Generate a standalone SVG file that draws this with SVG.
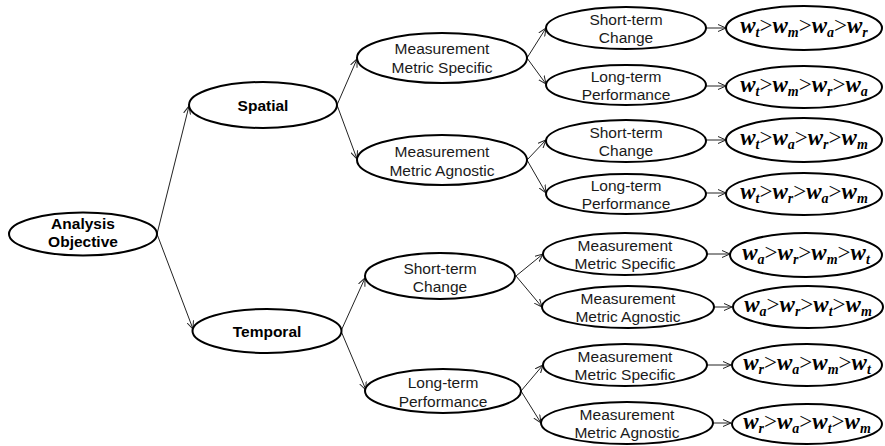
<svg xmlns="http://www.w3.org/2000/svg" width="885" height="446" viewBox="0 0 885 446">
  <defs>
    <marker id="arrow" markerWidth="9" markerHeight="8" refX="8" refY="4" orient="auto" markerUnits="userSpaceOnUse">
      <path d="M0,0.5 L8,4 L0,7.5" fill="none" stroke="#222" stroke-width="1"/>
    </marker>
    <style>
      .node { fill: #fff; stroke: #000; stroke-width: 2; }
      .bold { font-family: "Liberation Sans", Arial, sans-serif; font-size: 15.5px; font-weight: bold; fill: #000; text-anchor: middle; }
      .lbl { font-family: "Liberation Sans", Arial, sans-serif; font-size: 15.5px; fill: #1a1a1a; text-anchor: middle; }
      .rank { font-family: "Liberation Serif", "Times New Roman", serif; font-size: 23px; font-weight: bold; font-style: italic; fill: #000; text-anchor: middle; }
      .gt { font-style: normal; font-weight: normal; }
      .sub { font-size: 14px; }
      .edge { stroke: #222; stroke-width: 1; fill: none; marker-end: url(#arrow); }
    </style>
  </defs>
  <rect width="885" height="446" fill="#fff"/>

  <!-- connectors -->
  <g id="connectors">
    <line class="edge" x1="157" y1="234" x2="189" y2="106"/>
    <line class="edge" x1="157" y1="234" x2="193" y2="329"/>
    <line class="edge" x1="337" y1="105" x2="357" y2="59"/>
    <line class="edge" x1="337" y1="105" x2="357" y2="159"/>
    <line class="edge" x1="341" y1="331" x2="365" y2="278"/>
    <line class="edge" x1="341" y1="331" x2="366" y2="390"/>
    <line class="edge" x1="527" y1="58" x2="546" y2="28"/>
    <line class="edge" x1="527" y1="58" x2="546" y2="84"/>
    <line class="edge" x1="527" y1="160" x2="546" y2="140"/>
    <line class="edge" x1="527" y1="160" x2="546" y2="193"/>
    <line class="edge" x1="516" y1="276" x2="543" y2="254"/>
    <line class="edge" x1="516" y1="276" x2="542" y2="307"/>
    <line class="edge" x1="521" y1="391" x2="543" y2="365"/>
    <line class="edge" x1="521" y1="391" x2="541" y2="423"/>
    <line class="edge" x1="706" y1="28" x2="726" y2="28"/>
    <line class="edge" x1="706" y1="86" x2="726" y2="86"/>
    <line class="edge" x1="706" y1="140" x2="726" y2="140"/>
    <line class="edge" x1="706" y1="193" x2="726" y2="193"/>
    <line class="edge" x1="707" y1="254" x2="730" y2="254"/>
    <line class="edge" x1="714" y1="307" x2="732" y2="307"/>
    <line class="edge" x1="707" y1="365" x2="731" y2="365"/>
    <line class="edge" x1="713" y1="423" x2="731" y2="423"/>
  </g>

  <!-- level 1 -->
  <g id="analysis-objective">
    <ellipse class="node" cx="83" cy="234" rx="74" ry="21.5"/>
    <text class="bold" x="83" y="229">Analysis</text>
    <text class="bold" x="83" y="247">Objective</text>
  </g>

  <!-- level 2 -->
  <g id="spatial">
    <ellipse class="node" cx="263" cy="105" rx="74" ry="23"/>
    <text class="bold" x="263" y="111">Spatial</text>
  </g>
  <g id="temporal">
    <ellipse class="node" cx="267" cy="331" rx="74.5" ry="22"/>
    <text class="bold" x="267" y="337">Temporal</text>
  </g>

  <!-- level 3 -->
  <g id="spatial-specific">
    <ellipse class="node" cx="442" cy="58" rx="85" ry="25"/>
    <text class="lbl" x="442" y="54">Measurement</text>
    <text class="lbl" x="442" y="73">Metric Specific</text>
  </g>
  <g id="spatial-agnostic">
    <ellipse class="node" cx="442" cy="160" rx="85" ry="25"/>
    <text class="lbl" x="442" y="157">Measurement</text>
    <text class="lbl" x="442" y="176">Metric Agnostic</text>
  </g>
  <g id="temporal-short">
    <ellipse class="node" cx="440" cy="276" rx="75" ry="23"/>
    <text class="lbl" x="440" y="274">Short-term</text>
    <text class="lbl" x="440" y="292">Change</text>
  </g>
  <g id="temporal-long">
    <ellipse class="node" cx="443" cy="391" rx="78" ry="22"/>
    <text class="lbl" x="443" y="388">Long-term</text>
    <text class="lbl" x="443" y="407">Performance</text>
  </g>

  <!-- level 4 -->
  <g id="ss-short">
    <ellipse class="node" cx="626" cy="28" rx="80" ry="21"/>
    <text class="lbl" x="626" y="25">Short-term</text>
    <text class="lbl" x="626" y="43">Change</text>
  </g>
  <g id="ss-long">
    <ellipse class="node" cx="626" cy="85" rx="80" ry="20"/>
    <text class="lbl" x="626" y="82">Long-term</text>
    <text class="lbl" x="626" y="100">Performance</text>
  </g>
  <g id="sa-short">
    <ellipse class="node" cx="626" cy="141" rx="80" ry="21"/>
    <text class="lbl" x="626" y="138">Short-term</text>
    <text class="lbl" x="626" y="156">Change</text>
  </g>
  <g id="sa-long">
    <ellipse class="node" cx="626" cy="194" rx="80" ry="20"/>
    <text class="lbl" x="626" y="191">Long-term</text>
    <text class="lbl" x="626" y="209">Performance</text>
  </g>
  <g id="ts-specific">
    <ellipse class="node" cx="625" cy="254" rx="82" ry="21"/>
    <text class="lbl" x="625" y="251">Measurement</text>
    <text class="lbl" x="625" y="269">Metric Specific</text>
  </g>
  <g id="ts-agnostic">
    <ellipse class="node" cx="628" cy="307" rx="86" ry="21"/>
    <text class="lbl" x="628" y="304">Measurement</text>
    <text class="lbl" x="628" y="322">Metric Agnostic</text>
  </g>
  <g id="tl-specific">
    <ellipse class="node" cx="625" cy="365" rx="82" ry="21"/>
    <text class="lbl" x="625" y="362">Measurement</text>
    <text class="lbl" x="625" y="380">Metric Specific</text>
  </g>
  <g id="tl-agnostic">
    <ellipse class="node" cx="627" cy="423" rx="86" ry="21"/>
    <text class="lbl" x="627" y="420">Measurement</text>
    <text class="lbl" x="627" y="438">Metric Agnostic</text>
  </g>

  <!-- weight orderings -->
  <g id="rank-1">
    <ellipse class="node" cx="804" cy="28" rx="78" ry="22"/>
    <text class="rank" x="804" y="33">w<tspan class="sub" dy="4">t</tspan><tspan class="gt" dy="-4">&gt;</tspan>w<tspan class="sub" dy="4">m</tspan><tspan class="gt" dy="-4">&gt;</tspan>w<tspan class="sub" dy="4">a</tspan><tspan class="gt" dy="-4">&gt;</tspan>w<tspan class="sub" dy="4">r</tspan></text>
  </g>
  <g id="rank-2">
    <ellipse class="node" cx="804" cy="87" rx="78" ry="21"/>
    <text class="rank" x="804" y="92">w<tspan class="sub" dy="4">t</tspan><tspan class="gt" dy="-4">&gt;</tspan>w<tspan class="sub" dy="4">m</tspan><tspan class="gt" dy="-4">&gt;</tspan>w<tspan class="sub" dy="4">r</tspan><tspan class="gt" dy="-4">&gt;</tspan>w<tspan class="sub" dy="4">a</tspan></text>
  </g>
  <g id="rank-3">
    <ellipse class="node" cx="804" cy="140" rx="78" ry="22"/>
    <text class="rank" x="804" y="145">w<tspan class="sub" dy="4">t</tspan><tspan class="gt" dy="-4">&gt;</tspan>w<tspan class="sub" dy="4">a</tspan><tspan class="gt" dy="-4">&gt;</tspan>w<tspan class="sub" dy="4">r</tspan><tspan class="gt" dy="-4">&gt;</tspan>w<tspan class="sub" dy="4">m</tspan></text>
  </g>
  <g id="rank-4">
    <ellipse class="node" cx="804" cy="194" rx="78" ry="21"/>
    <text class="rank" x="804" y="199">w<tspan class="sub" dy="4">t</tspan><tspan class="gt" dy="-4">&gt;</tspan>w<tspan class="sub" dy="4">r</tspan><tspan class="gt" dy="-4">&gt;</tspan>w<tspan class="sub" dy="4">a</tspan><tspan class="gt" dy="-4">&gt;</tspan>w<tspan class="sub" dy="4">m</tspan></text>
  </g>
  <g id="rank-5">
    <ellipse class="node" cx="806" cy="255" rx="76" ry="22"/>
    <text class="rank" x="806" y="260">w<tspan class="sub" dy="4">a</tspan><tspan class="gt" dy="-4">&gt;</tspan>w<tspan class="sub" dy="4">r</tspan><tspan class="gt" dy="-4">&gt;</tspan>w<tspan class="sub" dy="4">m</tspan><tspan class="gt" dy="-4">&gt;</tspan>w<tspan class="sub" dy="4">t</tspan></text>
  </g>
  <g id="rank-6">
    <ellipse class="node" cx="808" cy="307" rx="75" ry="21"/>
    <text class="rank" x="808" y="312">w<tspan class="sub" dy="4">a</tspan><tspan class="gt" dy="-4">&gt;</tspan>w<tspan class="sub" dy="4">r</tspan><tspan class="gt" dy="-4">&gt;</tspan>w<tspan class="sub" dy="4">t</tspan><tspan class="gt" dy="-4">&gt;</tspan>w<tspan class="sub" dy="4">m</tspan></text>
  </g>
  <g id="rank-7">
    <ellipse class="node" cx="807" cy="365" rx="75" ry="21"/>
    <text class="rank" x="807" y="370">w<tspan class="sub" dy="4">r</tspan><tspan class="gt" dy="-4">&gt;</tspan>w<tspan class="sub" dy="4">a</tspan><tspan class="gt" dy="-4">&gt;</tspan>w<tspan class="sub" dy="4">m</tspan><tspan class="gt" dy="-4">&gt;</tspan>w<tspan class="sub" dy="4">t</tspan></text>
  </g>
  <g id="rank-8">
    <ellipse class="node" cx="807" cy="424" rx="75" ry="20"/>
    <text class="rank" x="807" y="429">w<tspan class="sub" dy="4">r</tspan><tspan class="gt" dy="-4">&gt;</tspan>w<tspan class="sub" dy="4">a</tspan><tspan class="gt" dy="-4">&gt;</tspan>w<tspan class="sub" dy="4">t</tspan><tspan class="gt" dy="-4">&gt;</tspan>w<tspan class="sub" dy="4">m</tspan></text>
  </g>
</svg>
